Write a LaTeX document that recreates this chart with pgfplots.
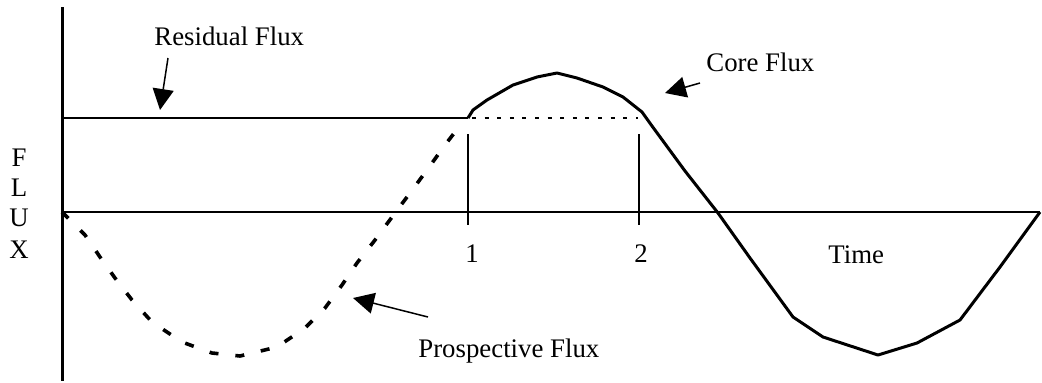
\documentclass[border=0pt]{standalone}
\usepackage{pgfplots}
\pgfplotsset{compat=1.18}
\usetikzlibrary{arrows.meta}
\usepackage{fontspec}
\setmainfont{Liberation Serif}
\tikzset{lbl/.style={font=\fontsize{13.4}{16}\selectfont, inner sep=0pt}}
\begin{document}
\fontsize{13.4}{16}\selectfont
\begin{tikzpicture}
\begin{axis}[
  width=521pt, height=190.5pt, scale only axis,
  xmin=0, xmax=1042, ymin=-381, ymax=0,
  hide axis, clip=false,
]
\path (rel axis cs:0,0) rectangle (rel axis cs:1,1);
% axes
\addplot[black, line width=1.5pt] coordinates {(62,-7) (62,-381)};
\addplot[black, line width=1pt] coordinates {(62,-212) (1040,-212)};
% residual flux
\addplot[black, line width=1pt] coordinates {(62,-118) (468,-118)};
% dotted continuation
\addplot[black, line width=1.3pt, dash pattern=on 2pt off 4.3pt] coordinates {(472,-118) (638,-118)};
% tick lines
\addplot[black, line width=0.7pt] coordinates {(468,-134) (468,-225)};
\addplot[black, line width=0.7pt] coordinates {(639,-134) (639,-225)};
% prospective flux
\addplot[black, line width=1.8pt, dash pattern=on 4.5pt off 8.5pt] coordinates {
(62,-212) (85,-235) (100,-257) (115,-278) (132,-300) (152,-322) (182,-342)
(212,-353) (240,-356) (277,-347) (305,-328) (325,-308) (342,-285) (357,-263)
(375,-240) (395,-213) (410,-193) (427,-170) (445,-145) (455,-132)};
% core flux
\addplot[black, line width=1.5pt, line join=round] coordinates {
(468,-118) (473,-110) (487,-100) (513,-85) (537,-77) (557,-73) (577,-78)
(603,-87) (623,-97) (642,-112) (652,-126) (685,-171) (718,-213)
(750,-258) (793,-317) (823,-337) (878,-355) (917,-343) (960,-320) (1000,-267) (1040,-212)};
% arrows
\draw[line width=0.75pt, -{Triangle[length=10.5pt,width=10.5pt]}] (axis cs:168,-58) -- (axis cs:160,-110);
\draw[line width=0.75pt, -{Triangle[length=10.5pt,width=10.5pt]}] (axis cs:700,-83) -- (axis cs:665,-93);
\draw[line width=0.75pt, -{Triangle[length=10.5pt,width=10.5pt]}] (axis cs:428,-317) -- (axis cs:353,-298);
% labels
\node[lbl, anchor=base west] at (axis cs:154,-45) {Residual Flux};
\node[lbl, anchor=base west] at (axis cs:706,-71) {Core Flux};
\node[lbl, anchor=base west] at (axis cs:418,-357) {Prospective Flux};
\node[lbl, anchor=base west] at (axis cs:828,-263) {Time};
\node[lbl, anchor=base] at (axis cs:472,-262) {1};
\node[lbl, anchor=base] at (axis cs:641,-262) {2};
\node[lbl, anchor=base] at (axis cs:19,-166) {F};
\node[lbl, anchor=base] at (axis cs:19,-196) {L};
\node[lbl, anchor=base] at (axis cs:19,-226) {U};
\node[lbl, anchor=base] at (axis cs:19,-258) {X};
\end{axis}
\end{tikzpicture}
\end{document}
